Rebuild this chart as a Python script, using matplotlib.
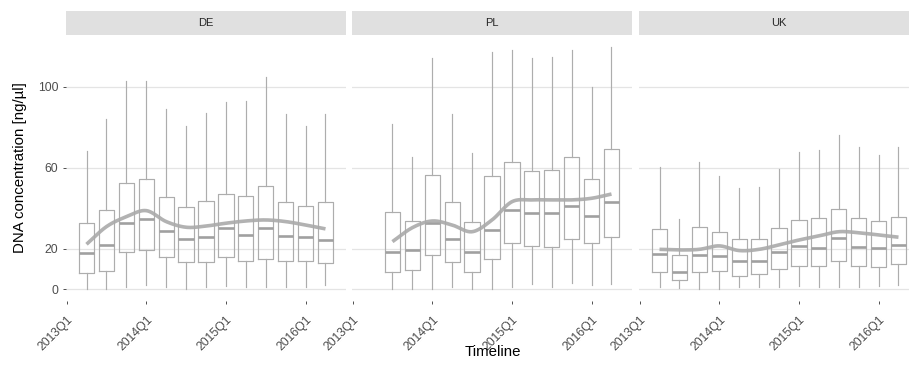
import numpy as np
import matplotlib
matplotlib.use("Agg")
import matplotlib.pyplot as plt

plt.rcParams["font.family"] = ["Liberation Sans", "DejaVu Sans"]

# Quarter index: 0 = 2013Q1
countries = ["DE", "PL", "UK"]
tick_pos = [0, 4, 8, 12]
tick_labels = ["2013Q1", "2014Q1", "2015Q1", "2016Q1"]
y_ticks = [0, 20, 60, 100]

# --- DE ---
de_quarters = list(range(1, 14))
de_whislo = [0, 0, 1.3, 2.1, 1.3, 0, 1.3, 1.6, 1.0, 1.0, 1.0, 1.0, 2.1]
de_q1 = [7.9, 8.9, 18.3, 19.4, 15.8, 13.5, 13.5, 16.1, 13.8, 15.0, 14.1, 14.1, 13.0]
de_med = [18.1, 21.7, 32.7, 34.7, 28.6, 24.8, 25.7, 30.3, 26.8, 30.3, 26.3, 25.8, 24.3]
de_q3 = [32.6, 39.0, 52.3, 54.6, 45.4, 40.5, 43.7, 47.2, 46.2, 51.1, 43.2, 41.0, 42.9]
de_whishi = [68.4, 83.9, 103.0, 103.0, 89.0, 80.6, 87.2, 92.3, 92.9, 105.0, 86.7, 80.6, 86.7]
de_trend = [22.2, 30.9, 35.8, 38.8, 33.4, 30.6, 31.2, 32.6, 33.7, 34.2, 33.4, 31.7, 29.8]

# --- PL ---
pl_quarters = list(range(2, 14))
pl_whislo = [0, 0, 0, 1.3, 0, 0, 1.0, 2.5, 1.3, 3.3, 2.1, 2.5]
pl_q1 = [8.4, 9.5, 16.9, 13.3, 8.7, 15.0, 23.0, 21.2, 20.9, 25.0, 22.9, 25.7]
pl_med = [18.6, 19.4, 32.6, 24.8, 18.6, 29.3, 39.1, 37.5, 37.8, 41.1, 36.3, 43.2]
pl_q3 = [38.0, 33.9, 56.4, 42.9, 33.1, 55.8, 62.8, 58.5, 59.0, 65.3, 54.6, 69.4]
pl_whishi = [81.7, 65.5, 114.3, 86.7, 67.4, 117.0, 118.1, 114.3, 114.5, 118.1, 99.7, 119.4]
pl_trend = [23.5, 30.4, 33.7, 31.7, 28.4, 34.2, 43.2, 44.1, 44.1, 44.1, 44.9, 47.0]

# --- UK ---
uk_quarters = list(range(1, 14))
uk_whislo = [1.0, 0.5, 0, 0, 1.0, 1.0, 1.3, 1.6, 1.0, 1.0, 1.3, 1.8, 2.1]
uk_q1 = [8.4, 4.4, 8.4, 9.2, 6.7, 7.6, 9.9, 11.5, 11.7, 13.8, 11.7, 11.2, 12.3]
uk_med = [17.4, 8.4, 16.8, 16.4, 14.0, 13.8, 18.4, 21.2, 20.4, 25.3, 20.7, 20.2, 21.7]
uk_q3 = [29.6, 16.8, 30.8, 28.4, 24.7, 25.0, 30.1, 34.0, 35.0, 39.6, 35.3, 33.9, 35.8]
uk_whishi = [60.5, 34.7, 63.0, 55.8, 50.2, 50.5, 59.4, 67.6, 68.8, 76.0, 70.2, 66.3, 70.2]
uk_trend = [19.7, 19.4, 19.7, 21.4, 19.1, 19.7, 21.9, 24.3, 26.3, 28.4, 27.9, 26.8, 25.7]

panels = {
    "DE": (de_quarters, de_whislo, de_q1, de_med, de_q3, de_whishi, de_trend),
    "PL": (pl_quarters, pl_whislo, pl_q1, pl_med, pl_q3, pl_whishi, pl_trend),
    "UK": (uk_quarters, uk_whislo, uk_q1, uk_med, uk_q3, uk_whishi, uk_trend),
}


def catmull_rom(x, y, n=24):
    x = np.asarray(x, float)
    y = np.asarray(y, float)
    xp = np.concatenate([[2 * x[0] - x[1]], x, [2 * x[-1] - x[-2]]])
    yp = np.concatenate([[2 * y[0] - y[1]], y, [2 * y[-1] - y[-2]]])
    xs, ys = [], []
    for i in range(1, len(xp) - 2):
        t = np.linspace(0, 1, n, endpoint=False)
        m0 = (yp[i + 1] - yp[i - 1]) / 2
        m1 = (yp[i + 2] - yp[i]) / 2
        h00 = 2 * t**3 - 3 * t**2 + 1
        h10 = t**3 - 2 * t**2 + t
        h01 = -2 * t**3 + 3 * t**2
        h11 = t**3 - t**2
        xs.append(xp[i] + t * (xp[i + 1] - xp[i]))
        ys.append(h00 * yp[i] + h10 * m0 + h01 * yp[i + 1] + h11 * m1)
    xs.append([x[-1]])
    ys.append([y[-1]])
    return np.concatenate(xs), np.concatenate(ys)


W, H = 909, 367
fig = plt.figure(figsize=(W / 100, H / 100), dpi=100)

panel_left = [66, 352, 639]
panel_w = 280
panel_top, panel_bot = 35, 301
strip_top = 11

box_col = "#ADADAD"
med_col = "#A0A0A0"
trend_col = "#AAAAAA"
text_col = "#4D4D4D"

for i, name in enumerate(countries):
    qs, lo, q1, med, q3, hi, trend = panels[name]
    left = panel_left[i] / W
    bottom = 1 - panel_bot / H
    ax = fig.add_axes([left, bottom, panel_w / W, (panel_bot - panel_top) / H])

    stats = [
        dict(med=m, q1=a, q3=b, whislo=l, whishi=h, fliers=[])
        for l, a, m, b, h in zip(lo, q1, med, q3, hi)
    ]
    ax.bxp(
        stats, positions=qs, widths=0.77, showcaps=False, showfliers=False,
        boxprops=dict(color=box_col, linewidth=0.85),
        whiskerprops=dict(color=box_col, linewidth=0.85),
        medianprops=dict(color=med_col, linewidth=1.9, solid_capstyle="butt"),
        manage_ticks=False,
    )
    sx, sy = catmull_rom(qs, trend)
    ax.plot(sx, sy, color=trend_col, linewidth=2.6, alpha=0.9,
            solid_capstyle="butt", zorder=5)

    ax.set_xlim(-0.03, 14.03)
    ax.set_ylim(-5.8, 125.5)
    ax.set_xticks(tick_pos)
    ax.set_xticklabels(tick_labels, rotation=45, ha="right", va="top",
                       rotation_mode="anchor", fontsize=8.8, color=text_col)
    ax.set_yticks(y_ticks)
    if i == 0:
        ax.set_yticklabels([str(v) for v in y_ticks], fontsize=8.8, color=text_col)
    else:
        ax.set_yticklabels([])
    ax.tick_params(axis="both", length=2.4, width=0.6, color="#333333")
    ax.tick_params(axis="y", pad=3.2)
    ax.tick_params(axis="x", pad=7.0)
    if i > 0:
        ax.tick_params(axis="y", length=0)
    ax.grid(axis="y", color="#E4E4E4", linewidth=0.9)
    ax.set_axisbelow(True)
    for s in ax.spines.values():
        s.set_visible(False)

    sax = fig.add_axes([left, 1 - panel_top / H, panel_w / W, (panel_top - strip_top) / H])
    sax.set_facecolor("#E0E0E0")
    sax.set_xticks([])
    sax.set_yticks([])
    for s in sax.spines.values():
        s.set_visible(False)
    sax.text(0.5, 0.5, name, ha="center", va="center", fontsize=8,
             color="#262626", transform=sax.transAxes)

fig.text(20 / W, 1 - 168 / H, "DNA concentration [ng/µl]", rotation=90,
         ha="center", va="center", fontsize=10.8, color="black")
fig.text(492.5 / W, 1 - 352 / H, "Timeline", ha="center", va="center",
         fontsize=10.8, color="black")

fig.savefig("out.png", dpi=100, facecolor="white")
